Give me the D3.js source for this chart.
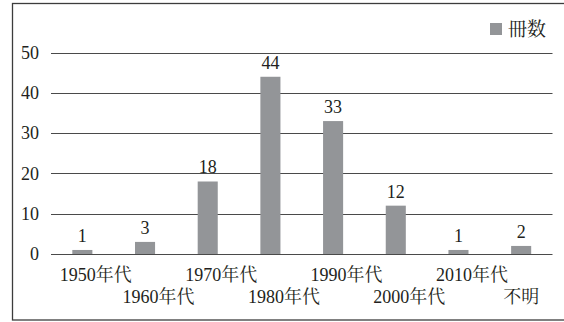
<!DOCTYPE html>
<html>
<head>
<meta charset="utf-8">
<script src="https://cdn.jsdelivr.net/npm/d3@7"></script>
<style>
  html, body { margin: 0; padding: 0; background: #fff; }
  svg { display: block; }
</style>
</head>
<body>
<svg id="chart" width="564" height="322"></svg>
<script>
// Books per decade of publication
const categories = ["1950年代", "1960年代", "1970年代", "1980年代", "1990年代", "2000年代", "2010年代", "不明"];
const counts = [1, 3, 18, 44, 33, 12, 1, 2];
const yTicks = [0, 10, 20, 30, 40, 50];
const seriesName = "冊数";

const FONT = "'Liberation Serif', 'Noto Serif CJK JP', serif";
const INK = "#231f20";

const svg = d3.select("#chart");
const plot = { left: 51, right: 552.5, top: 52.6, bottom: 254 };
const barColor = "#939598";

// Outer frame (runs off the right edge)
svg.append("rect")
  .attr("x", 12.5).attr("y", 3.5)
  .attr("width", 600).attr("height", 316.5)
  .attr("fill", "none").attr("stroke", "#3c3c3c").attr("stroke-width", 1.3);

const x = d3.scaleBand()
  .domain(categories)
  .range([plot.left, plot.right])
  .paddingInner(0.68).paddingOuter(0.34);

const y = d3.scaleLinear().domain([0, 50]).range([plot.bottom, plot.top]);

// Horizontal gridlines
svg.append("g").selectAll("line").data(yTicks).join("line")
  .attr("x1", plot.left).attr("x2", plot.right)
  .attr("y1", d => Math.round(y(d)) + 0.5).attr("y2", d => Math.round(y(d)) + 0.5)
  .attr("stroke", "#4a4a4a").attr("stroke-width", 1);

// Y axis labels
const yAxis = d3.axisLeft(y).tickValues(yTicks).tickSize(0).tickPadding(12);
const gy = svg.append("g").attr("transform", `translate(${plot.left},0)`).call(yAxis);
gy.select(".domain").remove();
gy.selectAll("text")
  .style("font-family", FONT).style("font-size", "18px")
  .attr("fill", INK);

// Bars
svg.append("g").selectAll("rect").data(categories).join("rect")
  .attr("x", d => x(d))
  .attr("width", x.bandwidth())
  .attr("y", (d, i) => y(counts[i]))
  .attr("height", (d, i) => y(0) - y(counts[i]))
  .attr("fill", barColor);

// Value labels
svg.append("g").selectAll("text").data(categories).join("text")
  .attr("x", d => x(d) + x.bandwidth() / 2)
  .attr("y", (d, i) => y(counts[i]) - 8)
  .attr("text-anchor", "middle")
  .style("font-family", FONT).style("font-size", "18px")
  .attr("fill", INK)
  .text((d, i) => counts[i]);

// Category labels, staggered on two rows
svg.append("g").selectAll("text").data(categories).join("text")
  .attr("x", (d, i) => x(d) + x.bandwidth() / 2 + (i === categories.length - 1 ? 0 : 13.5))
  .attr("y", (d, i) => i % 2 === 0 ? 281 : 303)
  .attr("text-anchor", "middle")
  .style("font-family", FONT).style("font-size", "18px")
  .attr("fill", INK)
  .text(d => d);

// Legend
const legend = svg.append("g");
legend.append("rect")
  .attr("x", 490).attr("y", 23).attr("width", 12).attr("height", 12)
  .attr("fill", barColor);
legend.append("text")
  .attr("x", 508).attr("y", 36)
  .style("font-family", FONT).style("font-size", "19px")
  .attr("fill", INK)
  .text(seriesName);
</script>
</body>
</html>
